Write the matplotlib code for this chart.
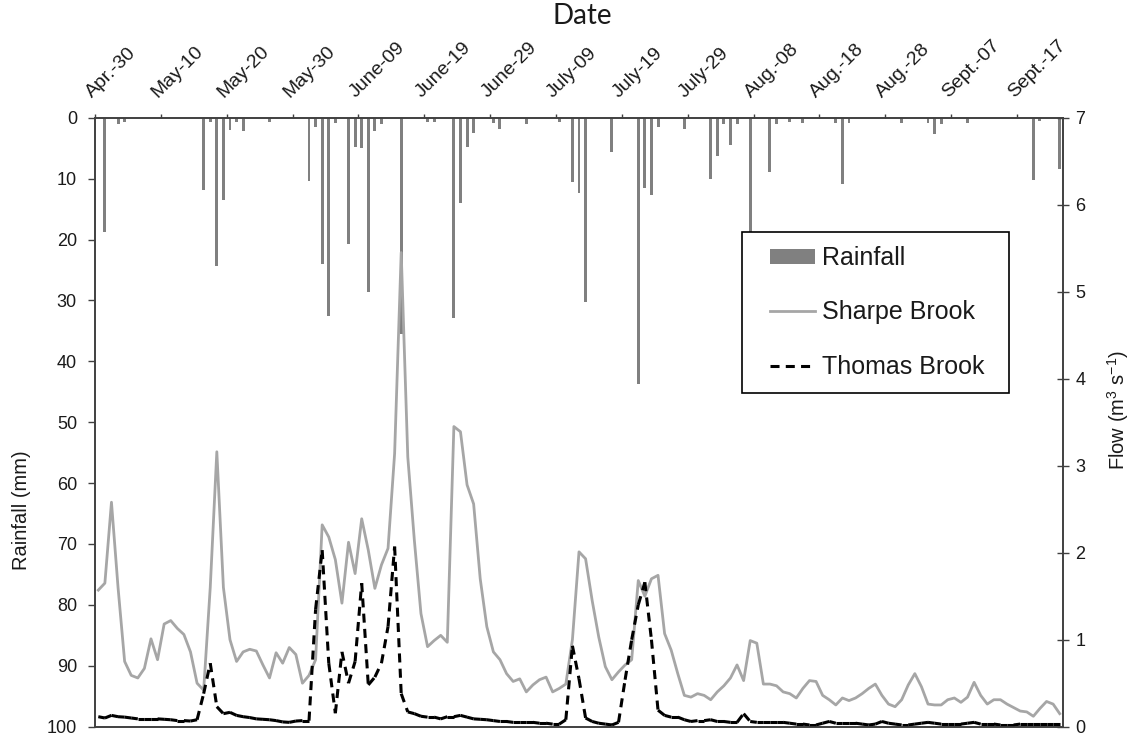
import numpy as np
import matplotlib
matplotlib.use('Agg')
import matplotlib.pyplot as plt
from matplotlib.collections import LineCollection
from matplotlib.lines import Line2D
from matplotlib.patches import Patch, Rectangle
from matplotlib.transforms import ScaledTranslation

plt.rcParams['font.family'] = ['Liberation Sans', 'DejaVu Sans']
plt.rcParams['mathtext.default'] = 'regular'
plt.rcParams['lines.scale_dashes'] = False

# one value per day, day 0 = Apr. 30
tick_labels = ['Apr.-30', 'May-10', 'May-20', 'May-30', 'June-09', 'June-19', 'June-29',
               'July-09', 'July-19', 'July-29', 'Aug.-08', 'Aug.-18', 'Aug.-28',
               'Sept.-07', 'Sept.-17']

# rainfall (mm) on the days it rained
rain_day = [1, 3, 4, 16, 17, 18, 19, 20, 21, 22, 26, 32, 33, 34, 35, 36, 38, 39, 40, 41,
            42, 43, 46, 50, 51, 54, 55, 56, 57, 60, 61, 65, 70, 72, 73, 74, 78, 82, 83, 84,
            85, 89, 93, 94, 95, 96, 97, 99, 102, 103, 105, 107, 112, 113, 114, 122, 126,
            127, 128, 132, 142, 143, 146]
rain_mm = [18.8, 1.1, 0.7, 11.9, 0.7, 24.4, 13.5, 2.0, 0.7, 2.2, 0.7, 10.4, 1.6, 24.0,
           32.5, 0.9, 20.7, 4.8, 4.9, 28.7, 2.2, 1.0, 35.5, 0.7, 0.7, 32.9, 14.0, 4.8, 2.5,
           0.9, 1.8, 1.1, 0.7, 10.6, 12.3, 30.3, 5.7, 43.8, 11.6, 12.7, 1.6, 1.8, 10.0, 6.3,
           1.0, 4.5, 1.0, 22.0, 8.9, 1.1, 0.7, 0.9, 0.9, 10.9, 0.9, 0.9, 0.9, 2.7, 1.1, 0.9,
           10.3, 0.6, 8.5]

# daily flow (m3 s-1)
sharpe = [1.57, 1.65, 2.58, 1.60, 0.75, 0.59, 0.56, 0.67, 1.01, 0.77,
          1.18, 1.22, 1.13, 1.06, 0.86, 0.50, 0.42, 1.60, 3.16, 1.60,
          1.00, 0.75, 0.86, 0.89, 0.87, 0.71, 0.56, 0.85, 0.73, 0.91,
          0.83, 0.50, 0.59, 0.77, 2.32, 2.18, 1.92, 1.42, 2.12, 1.76,
          2.39, 2.03, 1.59, 1.86, 2.05, 3.14, 5.45, 3.10, 2.14, 1.30,
          0.92, 0.99, 1.05, 0.97, 3.45, 3.39, 2.78, 2.56, 1.70, 1.15,
          0.86, 0.77, 0.61, 0.52, 0.55, 0.40, 0.48, 0.54, 0.57, 0.40,
          0.44, 0.49, 1.00, 2.01, 1.93, 1.45, 1.03, 0.69, 0.54, 0.63,
          0.71, 0.77, 1.68, 1.50, 1.70, 1.74, 1.07, 0.88, 0.61, 0.36,
          0.34, 0.38, 0.36, 0.31, 0.40, 0.47, 0.56, 0.71, 0.53, 0.99,
          0.96, 0.49, 0.49, 0.47, 0.40, 0.38, 0.33, 0.44, 0.53, 0.52,
          0.36, 0.31, 0.25, 0.33, 0.30, 0.33, 0.38, 0.44, 0.49, 0.36,
          0.26, 0.23, 0.31, 0.48, 0.61, 0.46, 0.26, 0.25, 0.25, 0.31,
          0.33, 0.28, 0.34, 0.51, 0.36, 0.26, 0.31, 0.31, 0.26, 0.22,
          0.18, 0.17, 0.12, 0.21, 0.29, 0.26, 0.15]
thomas = [0.115, 0.10, 0.13, 0.115, 0.11, 0.10, 0.09, 0.09, 0.09, 0.09,
          0.085, 0.08, 0.07, 0.07, 0.065, 0.08, 0.38, 0.73, 0.23, 0.15,
          0.165, 0.13, 0.115, 0.105, 0.09, 0.085, 0.08, 0.07, 0.055, 0.05,
          0.065, 0.07, 0.07, 1.35, 2.03, 0.73, 0.155, 0.86, 0.50, 0.75,
          1.65, 0.48, 0.57, 0.73, 1.15, 2.07, 0.38, 0.17, 0.15, 0.12,
          0.11, 0.11, 0.09, 0.115, 0.115, 0.13, 0.11, 0.09, 0.085, 0.08,
          0.07, 0.06, 0.06, 0.05, 0.05, 0.05, 0.05, 0.04, 0.04, 0.03,
          0.03, 0.08, 0.93, 0.55, 0.10, 0.06, 0.04, 0.03, 0.02, 0.05,
          0.54, 1.00, 1.40, 1.66, 1.00, 0.19, 0.13, 0.11, 0.11, 0.08,
          0.06, 0.07, 0.07, 0.08, 0.06, 0.06, 0.05, 0.05, 0.15, 0.06,
          0.05, 0.05, 0.05, 0.05, 0.05, 0.04, 0.03, 0.03, 0.02, 0.02,
          0.04, 0.06, 0.04, 0.04, 0.04, 0.04, 0.03, 0.02, 0.03, 0.06,
          0.04, 0.03, 0.02, 0.02, 0.03, 0.04, 0.05, 0.04, 0.03, 0.03,
          0.03, 0.03, 0.04, 0.05, 0.03, 0.03, 0.03, 0.02, 0.02, 0.02,
          0.03, 0.03, 0.03, 0.03, 0.03, 0.03, 0.03]

days = np.arange(len(sharpe))

AXIS = '#404040'
TEXT = '#1a1a1a'
BAR = '#808080'
SHARPE = '#a6a6a6'
DASH = (0, (6.5, 4.5))

W, H = 1132, 738
fig = plt.figure(figsize=(W / 100, H / 100), dpi=100)
ax = fig.add_axes([95 / W, 1 - 726.7 / H, (1063 - 95) / W, (726.7 - 117.7) / H])
ax2 = ax.twinx()

# rainfall bars hang from the top (inverted axis)
ax.bar(rain_day, rain_mm, width=0.45, color=BAR, zorder=2)
ax.set_ylim(100, 0)
ax.set_yticks(np.arange(0, 101, 10))
ax.set_xlim(-0.5, len(days) - 0.5)
ax.xaxis.tick_top()
ax.set_xticks(np.arange(0, len(days), 10) - 0.5)
ax.set_xticklabels(tick_labels, rotation=45, ha='left', va='bottom',
                   rotation_mode='anchor')
shift = ScaledTranslation(4 / 100, 0, fig.dpi_scale_trans)
for lab in ax.get_xticklabels():
    lab.set_transform(lab.get_transform() + shift)
ax.tick_params(axis='x', direction='out', length=3, width=1, color=AXIS,
               labelsize=14, labelcolor=TEXT, pad=9, top=True, bottom=False)
ax.tick_params(axis='y', direction='out', length=5, width=1, color=AXIS,
               labelsize=13, labelcolor=TEXT, pad=8)

# flows on the right axis
ax2.plot(days, sharpe, color=SHARPE, lw=2)
# Excel restarts the dash pattern at every point, so draw day by day
pts = np.column_stack([days, thomas])
segs = np.stack([pts[:-1], pts[1:]], axis=1)
ax2.add_collection(LineCollection(segs, colors='black', linewidths=2.2,
                                  linestyles=[DASH], capstyle='butt'))
ax2.set_ylim(0, 7)
ax2.set_yticks(range(8))
ax2.tick_params(axis='y', direction='inout', length=8, width=1, color=AXIS,
                labelsize=13, labelcolor=TEXT, pad=5)

for a in (ax, ax2):
    for s in a.spines.values():
        s.set_color(AXIS)
        s.set_linewidth(1.2)

fig.text(582 / W, 1 - 16 / H, 'Date', ha='center', va='center', fontsize=20,
         family=['Lato', 'DejaVu Sans'], color=TEXT)
fig.text(22 / W, 1 - 510 / H, 'Rainfall (mm)', rotation=90, ha='center',
         va='center', fontsize=14.5, color=TEXT)
fig.text(1118 / W, 1 - 410 / H, r'Flow (m$^3$ s$^{-1}$)', rotation=90,
         ha='center', va='center', fontsize=14.5, color=TEXT)

# legend frame drawn separately so the padding can differ per side
fig.add_artist(Rectangle((742 / W, 1 - 393 / H), 267 / W, 161 / H,
                         transform=fig.transFigure, facecolor='white',
                         edgecolor='black', lw=1.2, zorder=4))
handles = [Patch(facecolor=BAR, edgecolor='none'),
           Line2D([], [], color=SHARPE, lw=2),
           Line2D([], [], color='black', lw=2.2, linestyle=DASH)]
leg = fig.legend(handles, ['Rainfall', 'Sharpe Brook', 'Thomas Brook'],
                 loc='upper left', bbox_to_anchor=(770 / W, 1 - 246 / H),
                 fontsize=18, frameon=False, borderpad=0, labelspacing=1.22,
                 handlelength=1.8, handleheight=0.56, handletextpad=0.28,
                 borderaxespad=0)
leg.set_zorder(5)
for t in leg.get_texts():
    t.set_color(TEXT)

fig.savefig('out.png', dpi=100)
